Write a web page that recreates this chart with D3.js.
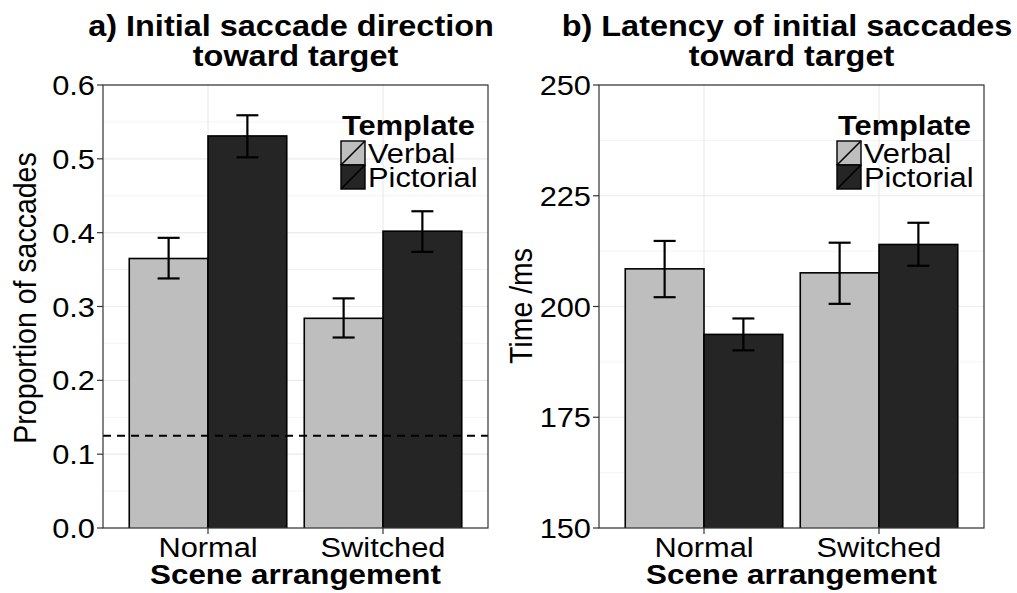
<!DOCTYPE html>
<html>
<head>
<meta charset="utf-8">
<script src="https://cdn.jsdelivr.net/npm/d3@7"></script>
<style>
  html, body { margin: 0; padding: 0; background: #fff; }
  svg { display: block; font-family: "Liberation Sans", Arial, Helvetica, sans-serif; }
</style>
</head>
<body>
<svg id="chart" width="1017" height="593"></svg>
<script>
// ---- Data ----
const categories = ["Normal", "Switched"];
const templates = ["Verbal", "Pictorial"];
const templateColors = ["#bebebe", "#252525"];

// Panel a: proportion of saccades
const propVerbalMean  = [0.365, 0.284];
const propVerbalLow   = [0.338, 0.258];
const propVerbalHigh  = [0.393, 0.311];
const propPictMean    = [0.531, 0.402];
const propPictLow     = [0.502, 0.374];
const propPictHigh    = [0.559, 0.429];
const propTicks = [0.0, 0.1, 0.2, 0.3, 0.4, 0.5, 0.6];
const chanceLevel = 0.125;

// Panel b: latency (ms)
const latVerbalMean = [208.5, 207.6];
const latVerbalLow  = [202.1, 200.6];
const latVerbalHigh = [214.8, 214.4];
const latPictMean   = [193.7, 214.0];
const latPictLow    = [190.1, 209.2];
const latPictHigh   = [197.3, 218.9];
const latTicks = [150, 175, 200, 225, 250];

const SX = 1.1; // horizontal glyph stretch of the reference

const svg = d3.select("#chart");

function htext(g, x, y, str, opts) {
  const t = g.append("text")
    .attr("transform", `translate(${x},${y}) scale(${SX},1)`)
    .attr("text-anchor", opts.anchor || "start")
    .attr("font-size", opts.size)
    .attr("font-weight", opts.bold ? "bold" : "normal")
    .attr("fill", opts.fill || "#000")
    .text(str);
  return t;
}

function buildRows(m1, l1, h1, m2, l2, h2) {
  const rows = [];
  categories.forEach((c, i) => {
    rows.push({cat: c, tpl: templates[0], mean: m1[i], lo: l1[i], hi: h1[i], color: templateColors[0]});
    rows.push({cat: c, tpl: templates[1], mean: m2[i], lo: l2[i], hi: h2[i], color: templateColors[1]});
  });
  return rows;
}

function panel(cfg) {
  const L = cfg.left, R = cfg.left + 385, T = 85, B = 528;
  const g = svg.append("g");

  const y = d3.scaleLinear().domain(cfg.domain).range([B, T]);
  const x = d3.scaleBand().domain(categories).range([L, R]).paddingInner(0.1).paddingOuter(0.15);
  const xi = d3.scaleBand().domain(templates).range([0, x.bandwidth()]).padding(0);

  const clipId = "clip" + cfg.id;
  svg.append("clipPath").attr("id", clipId).append("rect")
    .attr("x", L).attr("y", T).attr("width", R - L).attr("height", B - T);

  // gridlines
  const ticks = cfg.ticks;
  const minor = [];
  for (let i = 0; i < ticks.length - 1; i++) minor.push((ticks[i] + ticks[i + 1]) / 2);
  g.selectAll(".minor").data(minor).enter().append("line")
    .attr("x1", L).attr("x2", R).attr("y1", d => y(d)).attr("y2", d => y(d))
    .attr("stroke", "#f4f4f4").attr("stroke-width", 1);
  g.selectAll(".major").data(ticks).enter().append("line")
    .attr("x1", L).attr("x2", R).attr("y1", d => y(d)).attr("y2", d => y(d))
    .attr("stroke", "#ebebeb").attr("stroke-width", 1.2);
  g.selectAll(".vmaj").data(categories).enter().append("line")
    .attr("x1", d => x(d) + x.bandwidth() / 2).attr("x2", d => x(d) + x.bandwidth() / 2)
    .attr("y1", T).attr("y2", B)
    .attr("stroke", "#ebebeb").attr("stroke-width", 1.2);

  // bars
  const rows = cfg.rows;
  const gb = g.append("g").attr("clip-path", `url(#${clipId})`);
  gb.selectAll("rect.bar").data(rows).enter().append("rect")
    .attr("class", "bar")
    .attr("x", d => x(d.cat) + xi(d.tpl))
    .attr("width", xi.bandwidth())
    .attr("y", d => y(d.mean))
    .attr("height", d => y(cfg.domain[0]) - y(d.mean) + 2)
    .attr("fill", d => d.color)
    .attr("stroke", "#000").attr("stroke-width", 1.6);

  // chance line
  if (cfg.hline !== undefined) {
    g.append("line")
      .attr("x1", L).attr("x2", R).attr("y1", y(cfg.hline)).attr("y2", y(cfg.hline))
      .attr("stroke", "#000").attr("stroke-width", 2).attr("stroke-dasharray", "8,6");
  }

  // error bars
  const cap = 11;
  const eg = g.append("g").attr("stroke", "#000").attr("stroke-width", 2.2).attr("fill", "none");
  rows.forEach(d => {
    const cx = x(d.cat) + xi(d.tpl) + xi.bandwidth() / 2;
    eg.append("line").attr("x1", cx).attr("x2", cx).attr("y1", y(d.lo)).attr("y2", y(d.hi));
    eg.append("line").attr("x1", cx - cap).attr("x2", cx + cap).attr("y1", y(d.lo)).attr("y2", y(d.lo));
    eg.append("line").attr("x1", cx - cap).attr("x2", cx + cap).attr("y1", y(d.hi)).attr("y2", y(d.hi));
  });

  // panel border
  g.append("rect").attr("x", L).attr("y", T).attr("width", R - L).attr("height", B - T)
    .attr("fill", "none").attr("stroke", "#333").attr("stroke-width", 1.2);

  // y ticks
  ticks.forEach(t => {
    g.append("line").attr("x1", L - 6).attr("x2", L).attr("y1", y(t)).attr("y2", y(t))
      .attr("stroke", "#333").attr("stroke-width", 1.2);
    htext(g, L - 8, y(t) + 10, cfg.fmt(t), {anchor: "end", size: 28});
  });
  // x ticks
  categories.forEach(c => {
    const cx = x(c) + x.bandwidth() / 2;
    g.append("line").attr("x1", cx).attr("x2", cx).attr("y1", B).attr("y2", B + 6)
      .attr("stroke", "#333").attr("stroke-width", 1.2);
    htext(g, cx, 557, c, {anchor: "middle", size: 28});
  });

  // axis titles
  htext(g, (L + R) / 2, 584, "Scene arrangement", {anchor: "middle", size: 28.5, bold: true});
  g.append("text")
    .attr("transform", `translate(${cfg.ytitleX},${cfg.ytitleY}) rotate(-90) scale(1,${SX})`)
    .attr("text-anchor", "middle").attr("font-size", 28.5)
    .text(cfg.ytitle);

  // plot title
  htext(g, cfg.titleX, 36, cfg.title[0], {anchor: "middle", size: 29.5, bold: true});
  htext(g, (L + R) / 2, 66, cfg.title[1], {anchor: "middle", size: 29.5, bold: true});

  // legend
  const lx = R - 147;
  htext(g, lx + 1, 135, "Template", {size: 28, bold: true});
  templates.forEach((tp, i) => {
    const ky = 141 + i * 24;
    g.append("rect").attr("x", lx).attr("y", ky).attr("width", 24).attr("height", 24)
      .attr("fill", templateColors[i]).attr("stroke", "#000").attr("stroke-width", 1.4);
    g.append("line").attr("x1", lx).attr("y1", ky + 24).attr("x2", lx + 24).attr("y2", ky)
      .attr("stroke", "#000").attr("stroke-width", 1.6);
    htext(g, lx + 27, ky + 22, tp, {size: 28});
  });
}

panel({
  id: "a", left: 103, domain: [0, 0.6], ticks: propTicks, fmt: d3.format(".1f"),
  rows: buildRows(propVerbalMean, propVerbalLow, propVerbalHigh, propPictMean, propPictLow, propPictHigh),
  hline: chanceLevel,
  ytitle: "Proportion of saccades", ytitleX: 36, ytitleY: 298,
  title: ["a) Initial saccade direction", "toward target"], titleX: 291
});

panel({
  id: "b", left: 599, domain: [150, 250], ticks: latTicks, fmt: d3.format("d"),
  rows: buildRows(latVerbalMean, latVerbalLow, latVerbalHigh, latPictMean, latPictLow, latPictHigh),
  ytitle: "Time /ms", ytitleX: 532, ytitleY: 306,
  title: ["b) Latency of initial saccades", "toward target"], titleX: 787
});
</script>
</body>
</html>
